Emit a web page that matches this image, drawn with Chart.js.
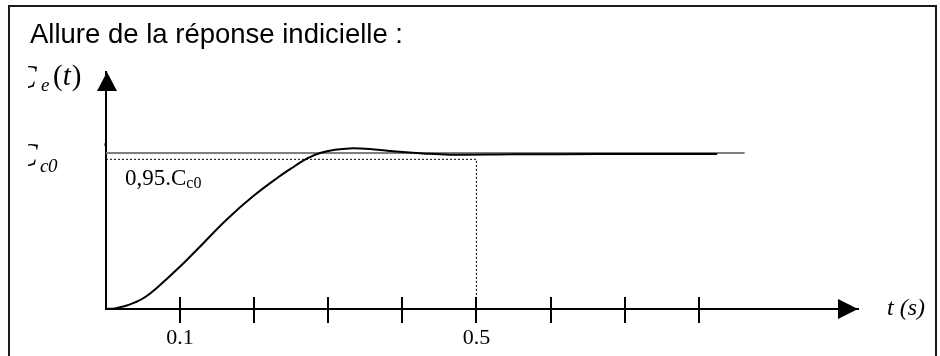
<!DOCTYPE html>
<html>
<head>
<meta charset="utf-8">
<script src="https://cdn.jsdelivr.net/npm/chart.js@4/dist/chart.umd.min.js"></script>
<style>
  html, body { margin: 0; padding: 0; background: #ffffff; }
  #c { display: block; }
</style>
</head>
<body>
<canvas id="c" width="940" height="356"></canvas>
<script>
// ---- Data ----
const timeValues = [0, 0.012, 0.026, 0.039, 0.053, 0.073, 0.1, 0.127, 0.163, 0.198, 0.231, 0.255, 0.271, 0.289, 0.309, 0.329, 0.356, 0.383, 0.428, 0.464, 0.549, 0.667, 0.825];
const responseValues = [0, 0.004, 0.019, 0.042, 0.077, 0.154, 0.272, 0.401, 0.574, 0.721, 0.84, 0.917, 0.965, 1.0, 1.021, 1.03, 1.026, 1.013, 0.998, 0.99, 0.992, 0.994, 0.994];
const steadyLevel = 1;          // C_c0
const steadyLineEnd = 0.862;    // end of the grey reference line (s)
const level95 = 0.96;           // 0,95.C_c0 dashed level as drawn
const time95 = 0.5;             // settling time marker (s)
const tickValues = [0.1, 0.2, 0.3, 0.4, 0.5, 0.6, 0.7, 0.8];
const labeledTicks = [0.1, 0.5];
const labeledTickText = ['0.1', '0.5'];
const titleText = 'Allure de la réponse indicielle :';
const xAxisMax = 1.015;
const yAxisMax = 1.52;

const curvePoints = timeValues.map((t, i) => ({ x: t, y: responseValues[i] }));
const steadyPoints = [{ x: 0, y: steadyLevel }, { x: steadyLineEnd, y: steadyLevel }];
const dashedPoints = [{ x: 0, y: level95 }, { x: time95, y: level95 }, { x: time95, y: 0 }];

const decorPlugin = {
  id: 'decor',
  afterDraw(chart) {
    const ctx = chart.ctx;
    const xs = chart.scales.x, ys = chart.scales.y;
    const area = chart.chartArea;
    const axisY = ys.getPixelForValue(0);
    const axisX = xs.getPixelForValue(0) + 1;
    ctx.save();
    // frame
    ctx.strokeStyle = '#1a1a1a';
    ctx.lineWidth = 2;
    ctx.strokeRect(9, 6, 927, 400);
    // title
    ctx.fillStyle = '#000';
    ctx.font = '27.5px "Liberation Sans", Arial, sans-serif';
    ctx.textBaseline = 'alphabetic';
    ctx.textAlign = 'left';
    ctx.fillText(titleText, 30, 43);
    // y axis arrow
    ctx.beginPath();
    ctx.moveTo(axisX, area.top);
    ctx.lineTo(axisX - 10, area.top + 19);
    ctx.lineTo(axisX + 10, area.top + 19);
    ctx.closePath();
    ctx.fill();
    // x axis arrow
    ctx.beginPath();
    ctx.moveTo(area.right, axisY);
    ctx.lineTo(area.right - 20, axisY - 10);
    ctx.lineTo(area.right - 20, axisY + 10);
    ctx.closePath();
    ctx.fill();
    // x tick marks crossing the axis
    ctx.strokeStyle = '#000';
    ctx.lineWidth = 2;
    tickValues.forEach(v => {
      const px = Math.round(xs.getPixelForValue(v));
      ctx.beginPath();
      ctx.moveTo(px, axisY - 12);
      ctx.lineTo(px, axisY + 14);
      ctx.stroke();
    });
    // small mark at C_c0 on y axis
    ctx.lineWidth = 1;
    const yC = ys.getPixelForValue(steadyLevel);
    ctx.beginPath();
    ctx.moveTo(axisX - 2, yC - 10);
    ctx.lineTo(axisX - 2, yC - 7);
    ctx.stroke();
    // t (s) label
    ctx.font = 'italic 24px "Liberation Serif", "Times New Roman", serif';
    ctx.fillText('t (s)', 887, 315);
    // 0,95.Cc0 label
    ctx.font = '23px "Liberation Serif", "Times New Roman", serif';
    ctx.fillText('0,95.C', 125, 185);
    const w = ctx.measureText('0,95.C').width;
    ctx.font = '16px "Liberation Serif", "Times New Roman", serif';
    ctx.fillText('c0', 125 + w, 188);
    // Ce(t) and Cc0 labels, C glyph clipped on the left as in the reference
    ctx.save();
    ctx.beginPath();
    ctx.rect(28, 0, 200, 356);
    ctx.clip();
    ctx.font = 'italic 34px "Liberation Serif", "Times New Roman", serif';
    ctx.fillText('C', 14, 88);
    ctx.fillText('C', 15, 166);
    ctx.restore();
    ctx.font = 'italic 19px "Liberation Serif", "Times New Roman", serif';
    ctx.fillText('e', 41, 91);
    ctx.fillText('c', 40, 172);
    ctx.fillText('0', 48, 172);
    ctx.font = '29px "Liberation Serif", "Times New Roman", serif';
    ctx.fillText('(', 53, 85);
    let pw = ctx.measureText('(').width;
    ctx.font = 'italic 29px "Liberation Serif", "Times New Roman", serif';
    ctx.fillText('t', 53 + pw, 85);
    const tw = ctx.measureText('t').width;
    ctx.font = '29px "Liberation Serif", "Times New Roman", serif';
    ctx.fillText(')', 53 + pw + tw + 1, 85);
    ctx.restore();
  }
};

new Chart(document.getElementById('c'), {
  type: 'scatter',
  data: {
    datasets: [
      { label: 'C_c0', data: steadyPoints, showLine: true, borderColor: '#808080', borderWidth: 2, pointRadius: 0, order: 2 },
      { label: '0,95.C_c0', data: dashedPoints, showLine: true, borderColor: '#000', borderWidth: 1, borderDash: [2, 2], pointRadius: 0, order: 3 },
      { label: 'Ce(t)', data: curvePoints, showLine: true, borderColor: '#000', borderWidth: 2, pointRadius: 0, tension: 0.4, order: 1 }
    ]
  },
  options: {
    responsive: false,
    animation: false,
    devicePixelRatio: 1,
    layout: { padding: { left: 106, right: 940 - 858, top: 72, bottom: 0 } },
    plugins: { legend: { display: false }, tooltip: { enabled: false }, title: { display: false } },
    scales: {
      x: {
        type: 'linear', position: 'bottom', min: 0, max: xAxisMax,
        grid: { display: false },
        border: { display: true, color: '#000', width: 2 },
        afterFit: (s) => { s.height = 47; },
        afterBuildTicks: (s) => { s.ticks = tickValues.map(v => ({ value: v })); },
        ticks: {
          autoSkip: false, maxRotation: 0, padding: 8, color: '#000',
          font: { family: '"Liberation Serif", "Times New Roman", serif', size: 22 },
          callback: (value) => {
            const i = labeledTicks.findIndex(v => Math.abs(v - value) < 1e-9);
            return i >= 0 ? labeledTickText[i] : '';
          }
        }
      },
      y: {
        type: 'linear', position: 'left', min: 0, max: yAxisMax,
        grid: { display: false },
        border: { display: true, color: '#000', width: 2 },
        ticks: { display: false },
        afterFit: (s) => { s.width = 0; }
      }
    }
  },
  plugins: [decorPlugin]
});
</script>
</body>
</html>
